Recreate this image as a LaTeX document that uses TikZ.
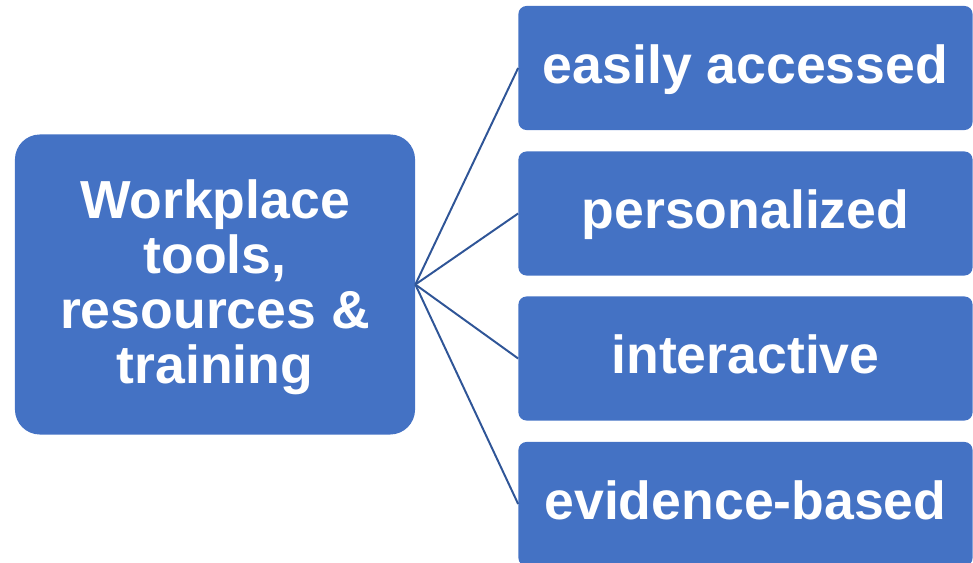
\documentclass[tikz,border=0pt]{standalone}
\usepackage{fontspec}
\setmainfont{Liberation Sans}
\usepackage{tikz}
\definecolor{boxblue}{HTML}{4472C4}
\definecolor{lineblue}{HTML}{2F5597}
\tikzset{
  mainbox/.style={fill=boxblue, text=white, rounded corners=0.625cm,
    minimum width=10cm, minimum height=7.5cm, align=center,
    font=\fontsize{38.1}{39.1}\selectfont\bfseries},
  itembox/.style={fill=boxblue, text=white, rounded corners=0.2cm,
    minimum width=11.35cm, minimum height=3.1cm,
    text height=26pt, text depth=4pt,
    font=\fontsize{38.1}{39.1}\selectfont\bfseries},
  link/.style={draw=lineblue, line width=1.4pt}
}
\begin{document}
\begin{tikzpicture}[x=0.025cm, y=-0.025cm]
            % page frame
            \useasboundingbox (0,0) rectangle (973,563);
            % topic box
            \node[mainbox] (tools) at (215,284.5)
              {\rule{0pt}{31.5pt}Workplace\\tools,\\resources \&\\training};
            % feature boxes
            \node[itembox] (access) at (745.5,68) {easily accessed};
            \node[itembox] (personal) at (745.5,213.5) {personalized};
            \node[itembox] (interact) at (745.5,358.5) {interactive};
            \node[itembox] (evidence) at (745.5,504) {evidence-based};
            % connectors
            \draw[link] (tools.east) -- (access.west);
            \draw[link] (tools.east) -- (personal.west);
            \draw[link] (tools.east) -- (interact.west);
            \draw[link] (tools.east) -- (evidence.west);
          \end{tikzpicture}
\end{document}
